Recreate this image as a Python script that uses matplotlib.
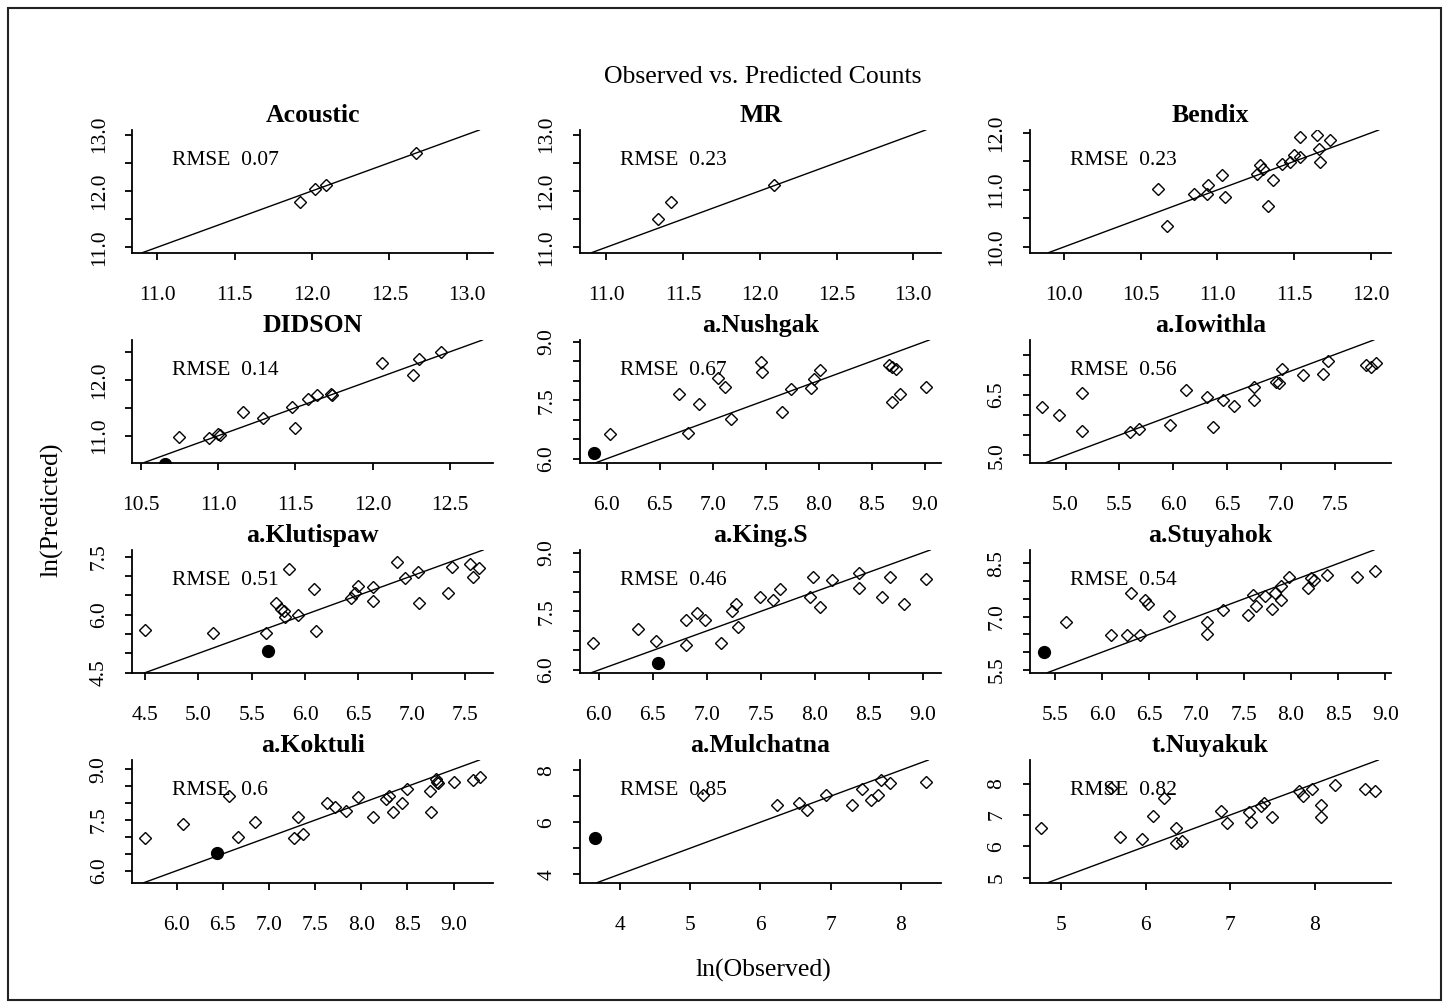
#!/usr/bin/env python3
"""Observed vs. predicted counts, one panel per station (log scale, 1:1 line)."""
import matplotlib

matplotlib.use("Agg")
import matplotlib.pyplot as plt
import numpy as np
from matplotlib.patches import Rectangle

# ---- data (ln observed / ln predicted) ----
ACOUSTIC_OBS = [11.92, 12.02, 12.09, 12.67]
ACOUSTIC_PRED = [11.80, 12.04, 12.11, 12.67]

MR_OBS = [11.34, 11.42, 12.09]
MR_PRED = [11.51, 11.80, 12.11]

BENDIX_OBS = [10.61, 10.67, 10.85, 10.93, 10.94, 11.03, 11.05, 11.26, 11.28, 11.30, 11.36,
              11.33, 11.42, 11.47, 11.50, 11.54, 11.54, 11.65, 11.66, 11.67, 11.73]
BENDIX_PRED = [11.02, 10.37, 10.93, 10.93, 11.09, 11.27, 10.87, 11.28, 11.43, 11.37, 11.18,
               10.71, 11.46, 11.49, 11.61, 11.58, 11.93, 11.96, 11.71, 11.49, 11.87]

DIDSON_OBS = [10.75, 10.94, 11.00, 11.01, 11.16, 11.29, 11.48, 11.50, 11.58, 11.64, 11.73,
              11.74, 12.06, 12.26, 12.30, 12.44]
DIDSON_PRED = [10.98, 10.96, 11.03, 11.01, 11.42, 11.32, 11.51, 11.14, 11.66, 11.73, 11.74,
               11.72, 12.30, 12.08, 12.37, 12.49]

NUSHGAK_OBS = [6.03, 6.68, 6.77, 6.87, 7.05, 7.12, 7.17, 7.45, 7.46, 7.65, 7.74, 7.93, 7.95,
               8.01, 8.66, 8.69, 8.73, 8.69, 8.76, 9.01]
NUSHGAK_PRED = [6.63, 7.67, 6.67, 7.41, 8.07, 7.84, 7.02, 8.47, 8.22, 7.21, 7.78, 7.81, 8.04,
                8.27, 8.40, 8.35, 8.31, 7.45, 7.67, 7.85]

IOWITHLA_OBS = [4.78, 4.94, 5.15, 5.15, 5.60, 5.68, 5.97, 6.12, 6.31, 6.37, 6.46, 6.56, 6.75,
                6.75, 6.95, 6.98, 7.01, 7.20, 7.39, 7.44, 7.79, 7.83, 7.88]
IOWITHLA_PRED = [6.19, 6.00, 6.54, 5.61, 5.58, 5.65, 5.75, 6.63, 6.44, 5.69, 6.36, 6.23, 6.69,
                 6.36, 6.82, 6.80, 7.15, 6.98, 7.02, 7.33, 7.25, 7.19, 7.28]

KLUTISPAW_OBS = [4.50, 5.14, 5.63, 5.73, 5.77, 5.80, 5.81, 5.85, 5.93, 6.08, 6.10, 6.43, 6.47,
                 6.50, 6.64, 6.64, 6.86, 6.94, 7.06, 7.07, 7.34, 7.38, 7.55, 7.57, 7.63]
KLUTISPAW_PRED = [5.61, 5.52, 5.52, 6.30, 6.15, 6.10, 5.95, 7.17, 5.99, 6.66, 5.58, 6.43, 6.57,
                  6.74, 6.72, 6.34, 7.35, 6.94, 7.11, 6.30, 6.57, 7.24, 7.30, 6.96, 7.20]

KINGS_OBS = [5.95, 6.36, 6.53, 6.81, 6.81, 6.91, 6.98, 7.13, 7.23, 7.27, 7.29, 7.49, 7.61, 7.68,
             7.96, 7.98, 8.05, 8.16, 8.41, 8.41, 8.62, 8.70, 8.83, 9.03]
KINGS_PRED = [6.69, 7.05, 6.73, 7.28, 6.65, 7.46, 7.28, 6.69, 7.50, 7.69, 7.11, 7.88, 7.78, 8.06,
              7.88, 8.38, 7.61, 8.29, 8.49, 8.11, 7.88, 8.38, 7.69, 8.34]

STUYAHOK_OBS = [5.62, 6.09, 6.26, 6.31, 6.40, 6.45, 6.49, 6.71, 7.11, 7.11, 7.28, 7.55, 7.60,
                7.63, 7.73, 7.80, 7.83, 7.90, 7.90, 7.98, 8.18, 8.21, 8.24, 8.38, 8.70, 8.89]
STUYAHOK_PRED = [6.86, 6.47, 6.47, 7.68, 6.47, 7.48, 7.37, 7.03, 6.86, 6.51, 7.20, 7.05, 7.62,
                 7.29, 7.57, 7.22, 7.67, 7.46, 7.86, 8.12, 7.82, 8.08, 8.03, 8.17, 8.12, 8.28]

KOKTULI_OBS = [5.66, 6.07, 6.57, 6.67, 6.85, 7.27, 7.31, 7.37, 7.63, 7.72, 7.84, 7.96, 8.13,
               8.27, 8.30, 8.34, 8.44, 8.50, 8.74, 8.75, 8.81, 8.82, 8.83, 9.00, 9.21, 9.29]
KOKTULI_PRED = [6.96, 7.37, 8.22, 7.00, 7.43, 6.96, 7.60, 7.08, 8.01, 7.89, 7.78, 8.17, 7.60,
                8.11, 8.22, 7.75, 8.01, 8.42, 8.37, 7.75, 8.73, 8.63, 8.59, 8.63, 8.70, 8.78]

MULCHATNA_OBS = [5.18, 6.23, 6.55, 6.67, 6.94, 7.30, 7.44, 7.58, 7.68, 7.72, 7.85, 8.35]
MULCHATNA_PRED = [7.03, 6.67, 6.75, 6.45, 7.06, 6.67, 7.27, 6.84, 7.03, 7.62, 7.49, 7.55]

NUYAKUK_OBS = [4.76, 5.59, 5.69, 5.96, 6.09, 6.21, 6.36, 6.36, 6.43, 6.89, 6.96, 7.22, 7.24,
               7.36, 7.40, 7.49, 7.81, 7.86, 7.97, 8.07, 8.07, 8.24, 8.59, 8.71]
NUYAKUK_PRED = [6.58, 7.85, 6.29, 6.23, 6.96, 7.54, 6.58, 6.11, 6.18, 7.14, 6.75, 7.09, 6.79,
                7.27, 7.38, 6.93, 7.76, 7.59, 7.84, 7.33, 6.93, 7.95, 7.84, 7.77]

# the single highlighted (filled) year per station, (obs, pred)
HIGHLIGHT = {
    "DIDSON": (10.66, 10.50),
    "a.Nushgak": (5.88, 6.16),
    "a.Klutispaw": (5.65, 5.05),
    "a.King.S": (6.55, 6.17),
    "a.Stuyahok": (5.38, 5.99),
    "a.Koktuli": (6.44, 6.53),
    "a.Mulchatna": (3.65, 5.38),
}

RMSE = ["0.07", "0.23", "0.23", "0.14", "0.67", "0.56", "0.51", "0.46", "0.54", "0.6", "0.85", "0.82"]

STATIONS = ["Acoustic", "MR", "Bendix", "DIDSON", "a.Nushgak", "a.Iowithla",
            "a.Klutispaw", "a.King.S", "a.Stuyahok", "a.Koktuli", "a.Mulchatna", "t.Nuyakuk"]
OBS = [ACOUSTIC_OBS, MR_OBS, BENDIX_OBS, DIDSON_OBS, NUSHGAK_OBS, IOWITHLA_OBS,
       KLUTISPAW_OBS, KINGS_OBS, STUYAHOK_OBS, KOKTULI_OBS, MULCHATNA_OBS, NUYAKUK_OBS]
PRED = [ACOUSTIC_PRED, MR_PRED, BENDIX_PRED, DIDSON_PRED, NUSHGAK_PRED, IOWITHLA_PRED,
        KLUTISPAW_PRED, KINGS_PRED, STUYAHOK_PRED, KOKTULI_PRED, MULCHATNA_PRED, NUYAKUK_PRED]

# axis setup per panel: xlim, ylim, x ticks (start, stop, step), y ticks, labelled y ticks
XLIM = [(10.84, 13.17), (10.83, 13.18), (9.78, 12.13), (10.446, 12.78), (5.75, 9.15), (4.67, 8.02),
        (4.38, 7.765), (5.825, 9.17), (5.236, 9.06), (5.52, 9.43), (3.434, 8.57), (4.63, 8.90)]
YLIM = [(10.905, 13.08), (10.905, 13.08), (9.90, 12.05), (10.52, 12.71), (5.90, 9.04), (4.815, 7.86),
        (4.50, 7.67), (5.93, 9.07), (5.42, 8.88), (5.645, 9.28), (3.675, 8.39), (4.84, 8.75)]
XTICKS = [(11.0, 13.0, 0.5), (11.0, 13.0, 0.5), (10.0, 12.0, 0.5), (10.5, 12.5, 0.5), (6.0, 9.0, 0.5),
          (5.0, 7.5, 0.5), (4.5, 7.5, 0.5), (6.0, 9.0, 0.5), (5.5, 9.0, 0.5), (6.0, 9.0, 0.5),
          (4, 8, 1), (5, 8, 1)]
YTICKS = [(11.0, 13.0, 0.5), (11.0, 13.0, 0.5), (10.0, 12.0, 0.5), (11.0, 12.5, 0.5), (6.0, 9.0, 0.5),
          (5.0, 7.5, 0.5), (4.5, 7.5, 0.5), (6.0, 9.0, 0.5), (5.5, 8.5, 0.5), (6.0, 9.0, 0.5),
          (4, 8, 1), (5, 8, 1)]
YLABELED = [[11.0, 12.0, 13.0], [11.0, 12.0, 13.0], [10.0, 11.0, 12.0], [11.0, 12.0], [6.0, 7.5, 9.0],
            [5.0, 6.5], [4.5, 6.0, 7.5], [6.0, 7.5, 9.0], [5.5, 7.0, 8.5], [6.0, 7.5, 9.0],
            [4, 6, 8], [5, 6, 7, 8]]

W, H = 1450, 1008
COL_X = [132.3, 580.0, 1030.0]
ROW_TOP = [130.0, 340.0, 550.0, 760.0]
AX_W, AX_H = 361.0, 122.7

plt.rcParams.update({
    "font.family": ["Liberation Serif", "DejaVu Serif"],
    "font.size": 15.5, "axes.linewidth": 1.3,
    "xtick.major.size": 5, "ytick.major.size": 5,
    "xtick.major.width": 1.3, "ytick.major.width": 1.3,
})


def fmt(v, step):
    return f"{v:.0f}" if step >= 1 else f"{v:.1f}"


def main():
    fig = plt.figure(figsize=(W / 100, H / 100), dpi=100)

    for i, name in enumerate(STATIONS):
        r, c = divmod(i, 3)
        left = COL_X[c] / W
        bottom = 1 - (ROW_TOP[r] + AX_H) / H
        ax = fig.add_axes([left, bottom, AX_W / W, AX_H / H])

        ax.axline((0, 0), slope=1, color="black", lw=1.0, zorder=2)
        ax.plot(OBS[i], PRED[i], ls="none", marker="D", ms=6.2, mfc="none",
                mec="black", mew=1.0, zorder=3)
        if name in HIGHLIGHT:
            hx, hy = HIGHLIGHT[name]
            ax.plot([hx], [hy], ls="none", marker="o", ms=8.5, color="black", zorder=4)

        ax.set_xlim(*XLIM[i])
        ax.set_ylim(*YLIM[i])

        x0, x1, xs = XTICKS[i]
        xt = np.arange(x0, x1 + xs / 2, xs)
        ax.set_xticks(xt)
        ax.set_xticklabels([fmt(v, xs) for v in xt])
        y0, y1, ys = YTICKS[i]
        yt = np.arange(y0, y1 + ys / 2, ys)
        ax.set_yticks(yt)
        ax.set_yticklabels([fmt(v, ys) if any(abs(v - l) < 1e-6 for l in YLABELED[i]) else "" for v in yt])
        ax.tick_params(axis="x", pad=19, labelsize=15.5)
        ax.tick_params(axis="y", pad=12, labelsize=15.5, labelrotation=90)
        for lab in ax.get_yticklabels():
            lab.set_va("center")

        for s in ("top", "right"):
            ax.spines[s].set_visible(False)

        ax.set_title(name, fontsize=18.5, fontweight="bold", pad=6)
        ax.text(0.11, 0.755, f"RMSE  {RMSE[i]}", transform=ax.transAxes,
                ha="left", va="center", fontsize=15.5)

    fig.text(763 / W, 1 - 77 / H, "Observed vs. Predicted Counts", ha="center", va="center", fontsize=18.5)
    fig.text(763 / W, 1 - 970 / H, "ln(Observed)", ha="center", va="center", fontsize=18.5)
    fig.text(52 / W, 1 - 510 / H, "ln(Predicted)", ha="center", va="center", rotation=90, fontsize=18.5)

    fig.add_artist(Rectangle((8 / W, 8 / H), 1433 / W, 992 / H, transform=fig.transFigure,
                             fill=False, lw=1.5, ec="#222222"))

    fig.savefig("out.png", dpi=100)
    plt.close(fig)


if __name__ == "__main__":
    main()
